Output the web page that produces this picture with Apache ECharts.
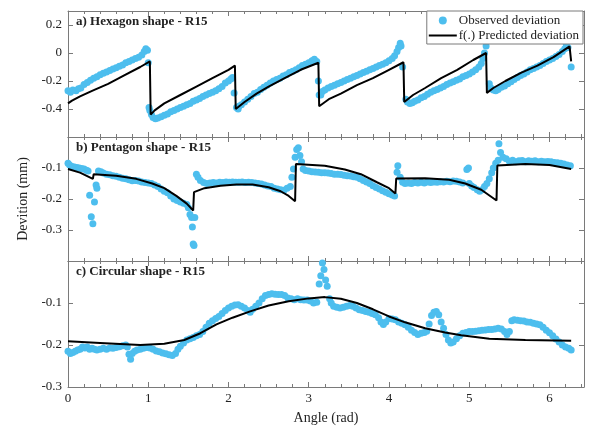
<!DOCTYPE html>
<html>
<head>
<meta charset="utf-8">
<script src="https://cdn.jsdelivr.net/npm/echarts@6/dist/echarts.min.js"></script>
<style>
  html, body { margin: 0; padding: 0; background: #fff; }
  #chart { width: 590px; height: 426px; }
</style>
</head>
<body>
<div id="chart"></div>
<script>
// angle (rad), deviation (mm)
const hexObserved = [
  [0,-0.27],[0.03,-0.28],[0.06,-0.265],[0.1,-0.27],[0.13,-0.255],[0.16,-0.25],[0.2,-0.225],[0.24,-0.21],[0.28,-0.195],[0.32,-0.18],[0.36,-0.17],[0.4,-0.155],[0.44,-0.145],[0.48,-0.135],[0.52,-0.125],[0.56,-0.115],[0.6,-0.105],[0.64,-0.095],[0.68,-0.085],[0.72,-0.07],[0.76,-0.06],[0.8,-0.05],[0.84,-0.04],[0.88,-0.03],[0.92,-0.015],[0.95,0.01],[0.97,0.03],[0.99,0.02],[1.0,-0.07],[1.01,-0.39],[1.02,-0.41],
  [1.04,-0.44],[1.06,-0.46],[1.09,-0.47],[1.12,-0.465],[1.16,-0.455],[1.2,-0.445],[1.24,-0.435],[1.28,-0.42],[1.32,-0.41],[1.36,-0.4],[1.4,-0.39],[1.44,-0.38],[1.48,-0.37],[1.52,-0.36],[1.56,-0.345],[1.6,-0.335],[1.64,-0.325],[1.68,-0.31],[1.72,-0.3],[1.76,-0.29],[1.8,-0.28],[1.84,-0.27],[1.88,-0.255],[1.92,-0.24],[1.96,-0.215],[2.0,-0.2],[2.03,-0.185],[2.05,-0.175],[2.07,-0.285],[2.1,-0.39],[2.12,-0.4],
  [2.13,-0.38],[2.16,-0.37],[2.2,-0.35],[2.24,-0.33],[2.28,-0.31],[2.32,-0.29],[2.36,-0.28],[2.4,-0.26],[2.44,-0.245],[2.48,-0.23],[2.52,-0.215],[2.56,-0.2],[2.6,-0.19],[2.64,-0.18],[2.68,-0.165],[2.72,-0.155],[2.76,-0.14],[2.8,-0.13],[2.84,-0.12],[2.88,-0.105],[2.92,-0.09],[2.96,-0.08],[3.0,-0.07],[3.04,-0.055],[3.07,-0.045],[3.1,-0.06],[3.12,-0.2],[3.13,-0.3],
  [3.15,-0.3],[3.17,-0.275],[3.2,-0.265],[3.24,-0.25],[3.28,-0.24],[3.32,-0.23],[3.36,-0.22],[3.4,-0.21],[3.44,-0.2],[3.48,-0.19],[3.52,-0.18],[3.56,-0.17],[3.6,-0.16],[3.64,-0.15],[3.68,-0.14],[3.72,-0.13],[3.76,-0.12],[3.8,-0.11],[3.84,-0.1],[3.88,-0.09],[3.92,-0.08],[3.96,-0.07],[4.0,-0.055],[4.04,-0.04],[4.07,-0.02],[4.1,0.01],[4.12,0.04],[4.14,0.07],[4.15,0.05],[4.17,-0.1],
  [4.21,-0.33],[4.23,-0.35],[4.26,-0.36],[4.29,-0.355],[4.32,-0.345],[4.36,-0.335],[4.4,-0.32],[4.44,-0.31],[4.48,-0.295],[4.52,-0.28],[4.56,-0.27],[4.6,-0.26],[4.64,-0.25],[4.68,-0.24],[4.72,-0.225],[4.76,-0.215],[4.8,-0.205],[4.84,-0.195],[4.88,-0.185],[4.92,-0.17],[4.96,-0.16],[5.0,-0.15],[5.04,-0.135],[5.08,-0.12],[5.12,-0.1],[5.15,-0.075],[5.17,-0.04],[5.19,0.0],[5.21,0.05],
  [5.25,-0.22],[5.27,-0.25],[5.3,-0.265],[5.33,-0.27],[5.36,-0.26],[5.4,-0.245],[5.44,-0.235],[5.48,-0.22],[5.52,-0.205],[5.56,-0.19],[5.6,-0.175],[5.64,-0.16],[5.68,-0.15],[5.72,-0.135],[5.76,-0.12],[5.8,-0.11],[5.84,-0.1],[5.88,-0.09],[5.92,-0.075],[5.96,-0.06],[6.0,-0.05],[6.04,-0.04],[6.08,-0.025],[6.12,-0.01],[6.16,0.01],[6.19,0.03],[6.21,0.06],[6.23,0.04],[6.27,-0.1]
]
const hexPredicted = [
  [0,-0.36],[0.05,-0.34],[0.15,-0.31],[0.3,-0.27],[0.5,-0.22],[0.7,-0.16],[0.9,-0.1],[1.02,-0.06],[1.03,-0.44],
  [1.08,-0.41],[1.2,-0.36],[1.4,-0.3],[1.6,-0.24],[1.8,-0.18],[2.0,-0.12],[2.08,-0.09],[2.09,-0.4],
  [2.2,-0.35],[2.35,-0.29],[2.5,-0.24],[2.7,-0.18],[2.9,-0.12],[3.12,-0.07],[3.13,-0.38],
  [3.25,-0.33],[3.4,-0.29],[3.6,-0.23],[3.8,-0.18],[4.0,-0.12],[4.18,-0.066],[4.19,-0.35],
  [4.3,-0.3],[4.45,-0.25],[4.65,-0.18],[4.85,-0.12],[5.05,-0.05],[5.21,0.0],[5.22,-0.285],
  [5.3,-0.25],[5.45,-0.2],[5.65,-0.14],[5.85,-0.09],[6.05,-0.03],[6.25,0.047],[6.27,-0.06]
]
const pentObserved = [
  [0,-0.085],[0.02,-0.09],[0.05,-0.095],[0.08,-0.097],[0.11,-0.098],[0.14,-0.1],[0.17,-0.102],[0.2,-0.103],[0.23,-0.107],[0.25,-0.11],[0.27,-0.188],[0.29,-0.257],[0.31,-0.28],[0.33,-0.21],[0.35,-0.155],[0.36,-0.165],[0.38,-0.11],[0.41,-0.112],[0.44,-0.116],[0.48,-0.12],[0.52,-0.122],[0.56,-0.125],[0.6,-0.127],[0.64,-0.13],[0.68,-0.133],[0.72,-0.135],[0.76,-0.138],[0.8,-0.141],[0.84,-0.14],[0.88,-0.142],[0.92,-0.145],[0.96,-0.147],[1.0,-0.148],[1.04,-0.15],[1.08,-0.155],[1.12,-0.16],[1.16,-0.168],[1.2,-0.175],[1.24,-0.18],[1.28,-0.19],[1.32,-0.2],[1.36,-0.205],[1.4,-0.21],[1.44,-0.214],[1.48,-0.218],[1.5,-0.228],[1.52,-0.25],[1.54,-0.26],[1.55,-0.29],[1.56,-0.345],[1.57,-0.35],[1.58,-0.26],
  [1.6,-0.12],[1.62,-0.13],[1.65,-0.14],[1.69,-0.147],[1.73,-0.15],[1.77,-0.148],[1.81,-0.147],[1.85,-0.148],[1.89,-0.146],[1.93,-0.147],[1.97,-0.145],[2.01,-0.146],[2.05,-0.145],[2.09,-0.146],[2.13,-0.146],[2.17,-0.145],[2.21,-0.147],[2.25,-0.146],[2.29,-0.147],[2.33,-0.148],[2.37,-0.15],[2.41,-0.152],[2.45,-0.155],[2.49,-0.158],[2.53,-0.16],[2.57,-0.165],[2.61,-0.168],[2.65,-0.17],[2.69,-0.172],[2.73,-0.165],[2.77,-0.16],[2.79,-0.13],[2.81,-0.103],[2.83,-0.065],[2.85,-0.04],[2.87,-0.035],[2.89,-0.06],[2.91,-0.08],
  [2.93,-0.103],[2.96,-0.108],[3.0,-0.11],[3.04,-0.112],[3.08,-0.113],[3.12,-0.114],[3.16,-0.115],[3.2,-0.115],[3.24,-0.116],[3.28,-0.118],[3.32,-0.12],[3.36,-0.12],[3.4,-0.121],[3.44,-0.123],[3.48,-0.125],[3.52,-0.126],[3.56,-0.128],[3.6,-0.13],[3.64,-0.135],[3.68,-0.14],[3.72,-0.145],[3.76,-0.15],[3.8,-0.157],[3.84,-0.163],[3.88,-0.168],[3.92,-0.173],[3.96,-0.178],[4.0,-0.183],[4.04,-0.187],[4.07,-0.19],[4.1,-0.114],[4.11,-0.093],[4.14,-0.13],[4.17,-0.146],
  [4.2,-0.15],[4.24,-0.148],[4.28,-0.15],[4.32,-0.147],[4.36,-0.148],[4.4,-0.146],[4.44,-0.148],[4.48,-0.145],[4.52,-0.147],[4.56,-0.145],[4.6,-0.146],[4.64,-0.144],[4.68,-0.145],[4.72,-0.143],[4.76,-0.144],[4.8,-0.142],[4.84,-0.143],[4.88,-0.145],[4.92,-0.148],[4.97,-0.105],[4.99,-0.1],[5.0,-0.15],[5.03,-0.158],[5.06,-0.163],[5.1,-0.17],[5.13,-0.175],[5.16,-0.17],[5.19,-0.16],[5.22,-0.15],[5.25,-0.135],[5.28,-0.115],[5.3,-0.1],[5.33,-0.085],[5.36,-0.075],[5.37,-0.022],[5.39,-0.05],
  [5.42,-0.065],[5.46,-0.07],[5.5,-0.078],[5.54,-0.075],[5.58,-0.08],[5.62,-0.077],[5.66,-0.076],[5.7,-0.08],[5.74,-0.077],[5.78,-0.078],[5.82,-0.077],[5.86,-0.08],[5.9,-0.078],[5.94,-0.08],[5.98,-0.079],[6.02,-0.08],[6.06,-0.082],[6.1,-0.083],[6.14,-0.085],[6.18,-0.087],[6.22,-0.09],[6.26,-0.093]
]
const pentPredicted = [
  [0,-0.103],[0.15,-0.115],[0.31,-0.135],[0.32,-0.12],[0.6,-0.125],[0.85,-0.135],[1.05,-0.15],[1.2,-0.165],[1.35,-0.19],[1.48,-0.215],[1.56,-0.237],[1.57,-0.178],
  [1.7,-0.165],[1.9,-0.157],[2.1,-0.153],[2.3,-0.153],[2.5,-0.162],[2.65,-0.175],[2.75,-0.19],[2.83,-0.207],[2.84,-0.087],
  [3.2,-0.093],[3.45,-0.105],[3.65,-0.12],[3.85,-0.146],[4.0,-0.165],[4.08,-0.182],[4.09,-0.134],
  [4.45,-0.133],[4.75,-0.138],[4.95,-0.15],[5.15,-0.17],[5.34,-0.205],[5.35,-0.092],
  [5.7,-0.087],[6.0,-0.09],[6.27,-0.103]
]
const circObserved = [
  [0,-0.215],[0.03,-0.22],[0.06,-0.218],[0.09,-0.215],[0.12,-0.212],[0.15,-0.21],[0.18,-0.205],[0.21,-0.207],[0.24,-0.205],[0.27,-0.21],[0.3,-0.208],[0.33,-0.21],[0.36,-0.212],[0.4,-0.21],[0.44,-0.208],[0.48,-0.21],[0.52,-0.207],[0.56,-0.208],[0.6,-0.206],[0.64,-0.204],[0.68,-0.202],[0.72,-0.2],[0.74,-0.205],[0.76,-0.222],[0.78,-0.234],[0.8,-0.22],[0.83,-0.215],[0.86,-0.212],[0.9,-0.21],[0.94,-0.208],[0.98,-0.206],[1.02,-0.207],[1.06,-0.21],[1.1,-0.214],[1.14,-0.216],[1.18,-0.219],[1.22,-0.221],[1.26,-0.223],[1.3,-0.225],[1.34,-0.22],[1.37,-0.21],[1.4,-0.203],[1.44,-0.195],[1.48,-0.188],[1.52,-0.185],[1.56,-0.182],[1.6,-0.178],[1.64,-0.175],[1.68,-0.168],[1.72,-0.158],[1.76,-0.148],[1.8,-0.142],[1.84,-0.137],[1.88,-0.132],[1.92,-0.125],[1.96,-0.118],[2.0,-0.112],[2.04,-0.108],[2.08,-0.105],[2.12,-0.104],[2.16,-0.108],[2.2,-0.112],[2.24,-0.118],[2.27,-0.122],[2.3,-0.115],[2.34,-0.108],[2.38,-0.1],[2.42,-0.09],[2.46,-0.082],[2.5,-0.08],[2.54,-0.078],[2.58,-0.079],[2.62,-0.08],[2.66,-0.08],[2.7,-0.082],[2.74,-0.088],[2.78,-0.09],[2.82,-0.092],[2.86,-0.09],[2.9,-0.092],[2.94,-0.093],[2.98,-0.093],[3.02,-0.095],[3.06,-0.1],[3.1,-0.098],
  [3.13,-0.055],[3.15,-0.035],[3.17,-0.005],[3.19,-0.02],[3.21,-0.045],[3.23,-0.06],[3.26,-0.09],[3.28,-0.1],[3.31,-0.108],[3.35,-0.11],[3.39,-0.112],[3.43,-0.11],[3.47,-0.108],[3.51,-0.106],[3.55,-0.108],[3.59,-0.112],[3.63,-0.116],[3.67,-0.118],[3.71,-0.12],[3.75,-0.122],[3.79,-0.125],[3.83,-0.128],[3.87,-0.135],[3.9,-0.145],[3.93,-0.151],[3.96,-0.145],[4.0,-0.137],[4.04,-0.138],[4.08,-0.14],[4.12,-0.145],[4.16,-0.148],[4.2,-0.152],[4.24,-0.158],[4.28,-0.165],[4.32,-0.17],[4.36,-0.175],[4.4,-0.172],[4.44,-0.17],[4.47,-0.167],[4.5,-0.15],[4.53,-0.13],[4.56,-0.122],[4.59,-0.12],[4.62,-0.128],[4.65,-0.145],[4.68,-0.16],[4.71,-0.175],[4.74,-0.188],[4.77,-0.195],[4.8,-0.193],[4.84,-0.185],[4.88,-0.178],[4.92,-0.172],[4.96,-0.17],[5.0,-0.168],[5.04,-0.168],[5.08,-0.167],[5.12,-0.166],[5.16,-0.165],[5.2,-0.164],[5.24,-0.163],[5.28,-0.163],[5.32,-0.162],[5.36,-0.16],[5.4,-0.162],[5.44,-0.168],[5.47,-0.175],[5.5,-0.168],[5.53,-0.142],[5.56,-0.14],[5.6,-0.141],[5.64,-0.142],[5.68,-0.143],[5.72,-0.145],[5.76,-0.146],[5.8,-0.148],[5.84,-0.15],[5.88,-0.152],[5.92,-0.158],[5.96,-0.165],[6.0,-0.171],[6.04,-0.178],[6.08,-0.186],[6.12,-0.193],[6.16,-0.2],[6.2,-0.205],[6.24,-0.208],[6.27,-0.212]
]
const circPredicted = [
  [0,-0.191],[0.4,-0.195],[0.9,-0.2],[1.2,-0.197],[1.45,-0.188],[1.65,-0.172],[1.85,-0.151],[2.05,-0.135],[2.27,-0.12],[2.5,-0.106],[2.75,-0.096],[3.0,-0.089],[3.2,-0.086],[3.4,-0.09],[3.6,-0.1],[3.8,-0.115],[4.0,-0.132],[4.2,-0.146],[4.45,-0.16],[4.7,-0.17],[4.9,-0.177],[5.25,-0.185],[5.7,-0.188],[6.27,-0.19]
]

const panelTitles = ['a) Hexagon shape - R15', 'b) Pentagon shape - R15', 'c) Circular shape - R15']
const yRanges = [[-0.6, 0.3], [-0.4, 0], [-0.3, 0]]
const yTicks = [[-0.4, -0.2, 0, 0.2], [-0.3, -0.2, -0.1], [-0.3, -0.2, -0.1]]
const xTicks = [0, 1, 2, 3, 4, 5, 6]
const observedSets = [hexObserved, pentObserved, circObserved]
const predictedSets = [hexPredicted, pentPredicted, circPredicted]

const font = 'Liberation Serif'
const frame = '#7a7a7a'
const blue = '#4DBEEE'
const grids = [
  { left: 68, right: 6, top: 11, height: 126 },
  { left: 68, right: 6, top: 137, height: 124 },
  { left: 68, right: 6, top: 261, height: 128 }
]

let xAxes = []
let yAxes = []
let series = []
grids.forEach((g, i) => {
  const last = i === 2
  const xBase = {
    gridIndex: i, type: 'value', min: 0, max: 6.43, interval: 1,
    axisLine: { show: true, onZero: false, lineStyle: { color: frame, width: 1 } },
    axisTick: { show: true, inside: true, length: 5, lineStyle: { color: frame } },
    minorTick: { show: true, splitNumber: 5, length: 3, lineStyle: { color: frame } },
    splitLine: { show: false }
  }
  xAxes.push(Object.assign({}, xBase, {
    position: 'bottom',
    axisLabel: { show: last, color: '#222', fontFamily: font, fontSize: 13, margin: 5, customValues: xTicks },
    name: last ? 'Angle (rad)' : '', nameLocation: 'middle', nameGap: 24,
    nameTextStyle: { color: '#222', fontFamily: font, fontSize: 14 }
  }))
  xAxes.push(Object.assign({}, xBase, { position: 'top', axisLabel: { show: false } }))

  const yBase = {
    gridIndex: i, type: 'value', min: yRanges[i][0], max: yRanges[i][1],
    axisLine: { show: true, onZero: false, lineStyle: { color: frame, width: 1 } },
    axisTick: { show: true, inside: true, length: 5, customValues: yTicks[i], lineStyle: { color: frame } },
    splitLine: { show: false }
  }
  yAxes.push(Object.assign({}, yBase, {
    position: 'left',
    axisLabel: { color: '#222', fontFamily: font, fontSize: 13, margin: 6, customValues: yTicks[i] },
    name: i === 1 ? 'Devition (mm)' : '', nameLocation: 'middle', nameGap: 36,
    nameTextStyle: { color: '#222', fontFamily: font, fontSize: 14 }
  }))
  yAxes.push(Object.assign({}, yBase, { position: 'right', axisLabel: { show: false } }))

  series.push({
    name: 'Observed deviation', type: 'scatter',
    xAxisIndex: i * 2, yAxisIndex: i * 2,
    symbolSize: 7, itemStyle: { color: blue, opacity: 1 },
    data: observedSets[i], z: 2
  })
  series.push({
    name: 'f(.) Predicted deviation', type: 'line',
    xAxisIndex: i * 2, yAxisIndex: i * 2,
    symbol: 'none', showSymbol: false, lineStyle: { color: '#000', width: 2 }, itemStyle: { color: '#000' },
    data: predictedSets[i], z: 3
  })
})

let chart = echarts.init(document.getElementById('chart'))
let option = {
  animation: false,
  backgroundColor: '#fff',
  grid: grids,
  xAxis: xAxes,
  yAxis: yAxes,
  title: panelTitles.map((t, i) => ({
    text: t, left: 71, top: grids[i].top - 1,
    textStyle: { fontFamily: font, fontSize: 13, fontWeight: 'bold', color: '#222' }
  })),
  legend: {
    orient: 'vertical', right: 7, top: 11,
    backgroundColor: '#fff', borderColor: frame, borderWidth: 1, borderRadius: 0,
    padding: [3, 4, 2, 2], itemGap: 2, itemWidth: 28, itemHeight: 8,
    textStyle: { fontFamily: font, fontSize: 13, color: '#222', padding: [0, 0, 0, -3] },
    data: [
      { name: 'Observed deviation', icon: 'circle' },
      { name: 'f(.) Predicted deviation', icon: 'path://M0,0 L28,0 L28,2 L0,2 Z', itemStyle: { color: '#000' } }
    ]
  },
  series: series
}
option && chart.setOption(option)
</script>
</body>
</html>
